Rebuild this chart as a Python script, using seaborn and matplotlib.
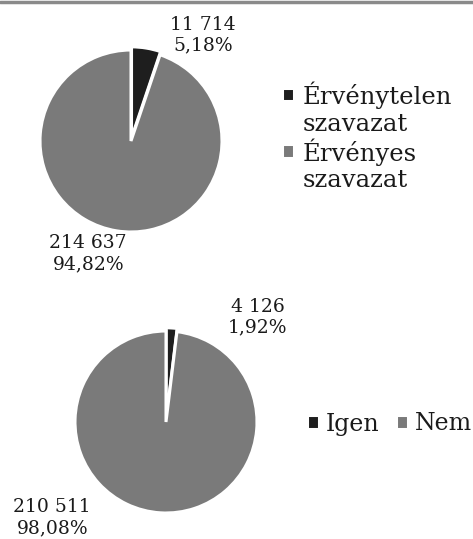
import matplotlib
matplotlib.use("Agg")
import matplotlib.pyplot as plt
import seaborn as sns
from matplotlib.lines import Line2D
from matplotlib.patches import Rectangle
from matplotlib.legend_handler import HandlerPatch

# data
top_labels = ["Érvénytelen\nszavazat", "Érvényes\nszavazat"]
top_values = [11714, 214637]
top_text = ["11 714\n5,18%", "214 637\n94,82%"]

bottom_labels = ["Igen", "Nem"]
bottom_values = [4126, 210511]
bottom_text = ["4 126\n1,92%", "210 511\n98,08%"]

colors = ["#1e1e1e", "#7a7a7a"]

sns.set_theme(style="white")
plt.rcParams['font.family'] = ['DejaVu Serif']

W, H = 473, 539
fig = plt.figure(figsize=(W / 100, H / 100), dpi=100)
fig.patch.set_facecolor("white")

R = 91  # pie radius in px


def pie_axes(cx, cy):
    half = 1.1 * R
    return fig.add_axes([(cx - half) / W, (H - cy - half) / H, 2 * half / W, 2 * half / H])


def draw_pie(ax, values, texts, text_pos):
    wedges, _ = ax.pie(values, colors=colors, startangle=90, counterclock=False,
                       explode=[0.035, 0], radius=1.0,
                       wedgeprops=dict(edgecolor="white", linewidth=2.2))
    ax.set_xlim(-1.1, 1.1)
    ax.set_ylim(-1.1, 1.1)
    ax.set_aspect("equal")
    ax.axis("off")
    for t, (x, y) in zip(texts, text_pos):
        ax.text(x, y, t, ha="center", va="center", fontsize=13.5,
                color="#1a1a1a", linespacing=1.2, clip_on=False)
    return wedges


# legend square sits next to the first line of a two-line label
def top_square(legend, orig_handle, xdescent, ydescent, width, height, fontsize):
    return Rectangle((-xdescent, -ydescent + 0.6 * fontsize), width, height)


# top pie
ax1 = pie_axes(131, 141)
w1 = draw_pie(ax1, top_values, top_text, [(0.79, 1.16), (-0.47, -1.24)])
fig.legend(w1, top_labels, loc="center left", bbox_to_anchor=(282 / W, 1 - 137 / H),
           frameon=False, fontsize=17.5, handlelength=0.5, handleheight=0.5,
           handletextpad=0.35, labelspacing=0.1, borderpad=0, borderaxespad=0,
           labelcolor="#1a1a1a",
           handler_map={w: HandlerPatch(patch_func=top_square) for w in w1})

# bottom pie
ax2 = pie_axes(166, 422)
w2 = draw_pie(ax2, bottom_values, bottom_text, [(1.01, 1.15), (-1.25, -1.05)])
fig.legend(w2, bottom_labels, loc="center left", bbox_to_anchor=(307 / W, 1 - 424 / H),
           ncol=2, frameon=False, fontsize=17, handlelength=0.5, handleheight=0.5,
           handletextpad=0.3, columnspacing=0.7, borderpad=0, borderaxespad=0,
           labelcolor="#1a1a1a")

# thin grey rule at the top edge
fig.add_artist(Line2D([0, 1], [1 - 1.5 / H, 1 - 1.5 / H], color="#8a8a8a", lw=2.5,
                      transform=fig.transFigure))

fig.savefig("out.png", dpi=100, facecolor="white")
